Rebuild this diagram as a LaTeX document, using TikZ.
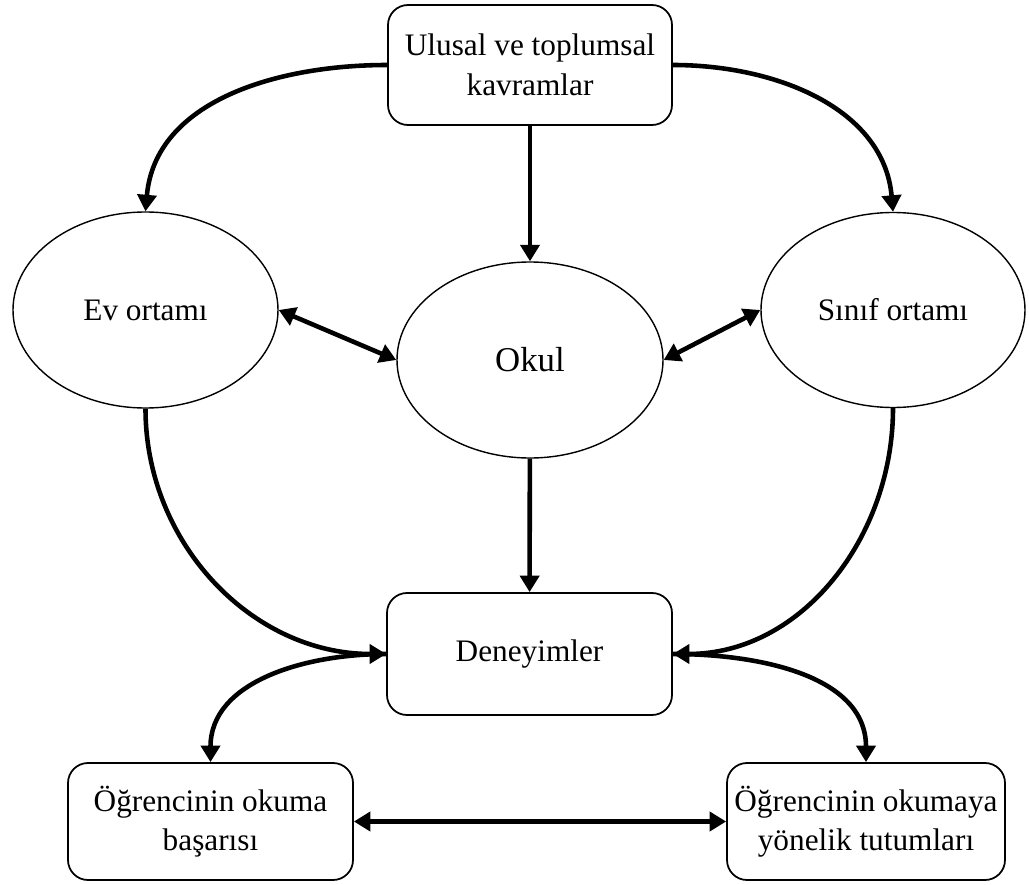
\documentclass[tikz,border=0pt]{standalone}
\usepackage{fontspec}
\setmainfont{Liberation Serif}
\usepackage{xcolor}
\usepackage{tikz}
\usetikzlibrary{arrows.meta,positioning,shapes.geometric}
\definecolor{modelInk}{HTML}{000000}
\tikzset{
  factorBox/.style={
    rectangle,
    rounded corners=4mm,
    draw=modelInk,
    line width=1pt,
    minimum width=5.68cm,
    minimum height=2.4cm,
    inner sep=0pt,
    align=center,
    font=\fontsize{17.8}{22.5}\selectfont
  },
  settingOval/.style={
    ellipse,
    draw=modelInk,
    line width=0.8pt,
    minimum width=5.3cm,
    minimum height=3.92cm,
    inner sep=0pt,
    align=center,
    font=\fontsize{17.8}{22.5}\selectfont
  },
  arrow/.style={
    -{Triangle[length=3.3mm,width=3.8mm]},
    line width=2.6pt,
    draw=modelInk
  },
  twoWay/.style={
    {Triangle[length=3.3mm,width=3.8mm]}-{Triangle[length=3.3mm,width=3.8mm]},
    line width=2.6pt,
    draw=modelInk
  }
}
\begin{document}
\begin{tikzpicture}
  \useasboundingbox (0,0) rectangle (20.58,-17.7);
  \node[factorBox] (ulusal) at (10.6,-1.3) {Ulusal ve toplumsal\\kavramlar};
  \node[settingOval] (ev) at (2.91,-6.2) {Ev ortamı};
  \node[settingOval,minimum width=5.32cm,font=\fontsize{19.8}{23}\selectfont] (okul) at (10.6,-7.2) {Okul};
  \node[settingOval,minimum width=5.28cm,minimum height=3.9cm] (sinif) at (17.86,-6.2) {Sınıf ortamı};
  \node[factorBox,minimum width=5.7cm,minimum height=2.44cm] (deneyim) at (10.59,-13.08) {Deneyimler};
  \node[factorBox,minimum width=5.7cm,minimum height=2.34cm] (basari) at (4.21,-16.43) {Öğrencinin okuma\\başarısı};
  \node[factorBox,minimum width=5.56cm,minimum height=2.34cm] (tutum) at (17.32,-16.43) {Öğrencinin okumaya\\yönelik tutumları};
  \draw[arrow] (ulusal.west) to[out=180,in=85] (ev.north);
  \draw[arrow] (ulusal.east) to[out=0,in=95] (sinif.north);
  \draw[arrow] (ulusal) -- (okul);
  \draw[twoWay] (ev.east) -- (okul.west);
  \draw[twoWay] (sinif.west) -- (okul.east);
  \draw[arrow] (okul) -- (deneyim);
  \draw[arrow] (ev.south) to[out=-90,in=180] (deneyim.west);
  \draw[arrow] (sinif.south) to[out=-90,in=0] (deneyim.east);
  \draw[arrow] (deneyim.west) to[out=180,in=90] (basari.north);
  \draw[arrow] (deneyim.east) to[out=0,in=90] (tutum.north);
  \draw[twoWay] (basari) -- (tutum);
\end{tikzpicture}
\end{document}
